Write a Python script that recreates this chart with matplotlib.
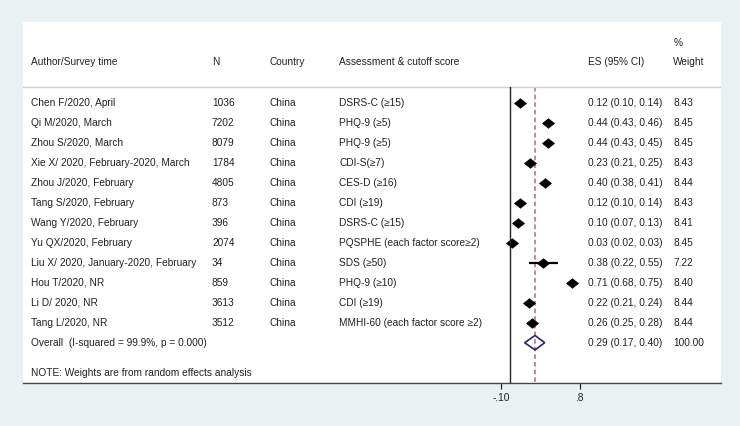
import matplotlib
matplotlib.use("Agg")
import matplotlib.pyplot as plt
from matplotlib.transforms import blended_transform_factory
from matplotlib.patches import Polygon
from matplotlib.path import Path

plt.rcParams['font.family'] = ['Liberation Sans', 'DejaVu Sans']

authors = ["Chen F/2020, April", "Qi M/2020, March", "Zhou S/2020, March",
           "Xie X/ 2020, February-2020, March", "Zhou J/2020, February",
           "Tang S/2020, February", "Wang Y/2020, February", "Yu QX/2020, February",
           "Liu X/ 2020, January-2020, February", "Hou T/2020, NR", "Li D/ 2020, NR",
           "Tang L/2020, NR"]
n_sizes = [1036, 7202, 8079, 1784, 4805, 873, 396, 2074, 34, 859, 3613, 3512]
countries = ["China"] * 12
assessments = ["DSRS-C (≥15)", "PHQ-9 (≥5)", "PHQ-9 (≥5)", "CDI-S(≥7)", "CES-D (≥16)",
               "CDI (≥19)", "DSRS-C (≥15)", "PQSPHE (each factor score≥2)", "SDS (≥50)",
               "PHQ-9 (≥10)", "CDI (≥19)", "MMHI-60 (each factor score ≥2)"]
es = [0.12, 0.44, 0.44, 0.23, 0.40, 0.12, 0.10, 0.03, 0.38, 0.71, 0.22, 0.26]
ci_low = [0.10, 0.43, 0.43, 0.21, 0.38, 0.10, 0.07, 0.02, 0.22, 0.68, 0.21, 0.25]
ci_high = [0.14, 0.46, 0.45, 0.25, 0.41, 0.14, 0.13, 0.03, 0.55, 0.75, 0.24, 0.28]
weights = [8.43, 8.45, 8.45, 8.43, 8.44, 8.43, 8.41, 8.45, 7.22, 8.40, 8.44, 8.44]
overall_es, overall_lo, overall_hi, overall_w = 0.29, 0.17, 0.40, 100.00
overall_label = "Overall  (I-squared = 99.9%, p = 0.000)"
note = "NOTE: Weights are from random effects analysis"
xticks = [-0.1, 0.8]
xtick_labels = ["-.10", ".8"]

W, H = 740, 426
fig = plt.figure(figsize=(W / 100, H / 100), dpi=100, facecolor="#e9f1f3")
pl, pr, pt, pb = 23, 721, 22, 383
ax = fig.add_axes([pl / W, 1 - pb / H, (pr - pl) / W, (pb - pt) / H])
ax.set_facecolor("white")

x0px, scale = 509.7, 87.5
ax.set_xlim((pl - x0px) / scale, (pr - x0px) / scale)
row0, rowstep = 102.7, 20.0
ax.set_ylim((pb - row0) / rowstep, (pt - row0) / rowstep)

for s in ['top', 'left', 'right']:
    ax.spines[s].set_visible(False)
ax.spines['bottom'].set_color('#444444')
ax.spines['bottom'].set_linewidth(1.0)
ax.set_yticks([])
ax.set_xticks(xticks)
ax.set_xticklabels(xtick_labels)
ax.tick_params(axis='x', direction='out', length=4, width=0.9, colors='#222222',
               labelsize=7.3, pad=3)

tc = '#222222'
fs = 7.3
tr = blended_transform_factory(fig.transFigure, ax.transData)
def fx(px):
    return px / W

def ypx(py):
    return (py - row0) / rowstep

hy = ypx(62)
ax.text(fx(31), hy, "Author/Survey time", transform=tr, va='center', fontsize=fs, color=tc)
ax.text(fx(212), hy, "N", transform=tr, va='center', fontsize=fs, color=tc)
ax.text(fx(269), hy, "Country", transform=tr, va='center', fontsize=fs, color=tc)
ax.text(fx(339), hy, "Assessment & cutoff score", transform=tr, va='center', fontsize=fs, color=tc)
ax.text(fx(587.7), hy, "ES (95% CI)", transform=tr, va='center', fontsize=fs, color=tc)
ax.text(fx(673.3), hy, "Weight", transform=tr, va='center', fontsize=fs, color=tc)
ax.text(fx(673.3), ypx(43), "%", transform=tr, va='center', fontsize=fs, color=tc)

ax.axhline(ypx(87), color='#cfcfcf', lw=1.0)

wide_diamond = Path([(-1, 0), (0, 0.8), (1, 0), (0, -0.8), (-1, 0)],
                    [Path.MOVETO, Path.LINETO, Path.LINETO, Path.LINETO, Path.CLOSEPOLY])

n = len(authors)
for i in range(n):
    ax.text(fx(31), i, authors[i], transform=tr, va='center', fontsize=fs, color=tc)
    ax.text(fx(212), i, str(n_sizes[i]), transform=tr, va='center', fontsize=fs, color=tc)
    ax.text(fx(269), i, countries[i], transform=tr, va='center', fontsize=fs, color=tc)
    ax.text(fx(339), i, assessments[i], transform=tr, va='center', fontsize=fs, color=tc)
    ax.text(fx(587.7), i, f"{es[i]:.2f} ({ci_low[i]:.2f}, {ci_high[i]:.2f})", transform=tr,
            va='center', fontsize=fs, color=tc)
    ax.text(fx(673.3), i, f"{weights[i]:.2f}", transform=tr, va='center', fontsize=fs, color=tc)
    ax.plot([ci_low[i], ci_high[i]], [i, i], color='black', lw=1.6, solid_capstyle='butt')
    ax.plot(es[i], i, marker=wide_diamond, color='black', ms=8.6, mec='black', mew=0.5)

oy = n
ax.text(fx(31), oy, overall_label, transform=tr, va='center', fontsize=fs, color=tc)
ax.text(fx(587.7), oy, f"{overall_es:.2f} ({overall_lo:.2f}, {overall_hi:.2f})", transform=tr,
        va='center', fontsize=fs, color=tc)
ax.text(fx(673.3), oy, f"{overall_w:.2f}", transform=tr, va='center', fontsize=fs, color=tc)
dh = 0.36
diamond = Polygon([(overall_lo, oy), (overall_es, oy - dh), (overall_hi, oy), (overall_es, oy + dh)],
                  closed=True, fill=False, edgecolor='#1f2a6e', lw=1.2, zorder=4)
ax.add_patch(diamond)

ax.text(fx(31), ypx(373), note, transform=tr, va='center', fontsize=fs, color=tc)

ytop = ypx(87)
ybot = ax.get_ylim()[0]
ax.plot([0, 0], [ytop, ybot], color='#222222', lw=1.0, zorder=2)
ax.plot([overall_es, overall_es], [ytop, ybot], color='#b06a84', lw=1.1,
        dashes=(3, 2), zorder=1)

fig.savefig("out.png", dpi=100, facecolor=fig.get_facecolor())
